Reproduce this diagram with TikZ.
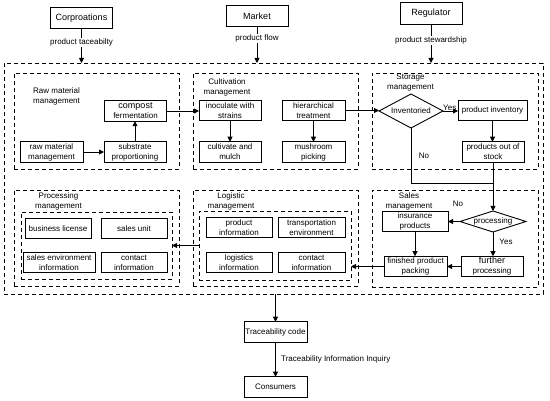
\documentclass[tikz,border=0pt]{standalone}
\usepackage{fontspec}
\setmainfont{Liberation Sans}
\usetikzlibrary{arrows.meta,shapes.geometric,calc}
\begin{document}
\begin{tikzpicture}[x=1pt,y=-1pt,
  box/.style={draw,line width=0.9pt,minimum width=#1,minimum height=20.5pt,inner sep=0.5pt,outer sep=0pt,align=center,font=\fontsize{8}{10}\selectfont},
  box/.default=63pt,
  topbox/.style={draw,line width=0.9pt,minimum width=62pt,minimum height=21.5pt,inner sep=0.5pt,outer sep=0pt,font=\fontsize{9}{10}\selectfont},
  dbox/.style={draw,line width=0.9pt,dash pattern=on 4pt off 3pt,inner sep=0pt,outer sep=0pt},
  dia/.style={draw,line width=0.9pt,diamond,inner sep=0pt,outer sep=0pt,font=\fontsize{8}{10}\selectfont},
  lbl/.style={inner sep=1pt,font=\fontsize{8}{10}\selectfont},
  ttl/.style={inner sep=0pt,align=center,font=\fontsize{8}{10}\selectfont},
  arr/.style={line width=0.9pt,-{Triangle[length=5pt,width=5pt]}},
  ln/.style={line width=0.9pt}]
\useasboundingbox (0,0) rectangle (550,401);

% top actors
\node[topbox] (corp) at (81.5,18) {Corproations};
\node[topbox] (market) at (257,16) {Market};
\node[topbox] (regul) at (431,13.5) {Regulator};

% outer dashed container
\node[dbox,minimum width=539pt,minimum height=231pt] (outer) at (273.5,178.5) {};

% section containers
\node[dbox,minimum width=165pt,minimum height=96pt] (raw) at (96.5,121) {};
\node[dbox,minimum width=165pt,minimum height=96pt] (cultiv) at (275.5,121) {};
\node[dbox,minimum width=166pt,minimum height=96pt] (storage) at (455,121) {};
\node[dbox,minimum width=165pt,minimum height=96pt] (procm) at (96.5,238) {};
\node[dbox,minimum width=165pt,minimum height=96pt] (logm) at (275.5,238) {};
\node[dbox,minimum width=166pt,minimum height=97pt] (sales) at (455,238.5) {};
\node[dbox,minimum width=151pt,minimum height=67pt] (procinner) at (96.5,245.5) {};
\node[dbox,minimum width=152pt,minimum height=69pt] (loginner) at (275,245.5) {};

% section titles
\node[ttl,align=left,anchor=west] (rawt) at (33,96) {Raw material\\management};
\node[ttl] (cultt) at (227,87) {Cultivation\\management};
\node[ttl] (stort) at (410.5,83) {Storage\\management};
\node[ttl] (proct) at (58.5,201) {Processing\\management};
\node[ttl] (logt) at (231,201) {Logistic\\management};
\node[ttl] (salest) at (409,201) {Sales\\management};

% raw material
\node[box=62pt] (compost) at (135.5,111) {\fontsize{9}{10.5}\selectfont compost\\fermentation};
\node[box] (rawmm) at (51.5,152) {raw material\\management};
\node[box=62pt] (substr) at (135,152) {substrate\\proportioning};

% cultivation
\node[box=62pt] (inoc) at (230,110.5) {inoculate with\\strains};
\node[box=62pt] (cult) at (230,152) {cultivate and\\mulch};
\node[box] (hier) at (313.5,110.5) {hierarchical\\treatment};
\node[box] (mush) at (313.5,152) {mushroom\\picking};

% storage
\node[dia,minimum width=64pt,minimum height=34pt,shape aspect=2] (inv) at (411,111) {Inventoried};
\node[box=69pt] (prodinv) at (492.5,110.5) {product inventory};
\node[box=62pt] (outstock) at (493,152) {products out of\\stock};
\coordinate (j) at (493,183);

% sales
\node[dia,minimum width=66pt,minimum height=21pt,shape aspect=3] (proc) at (493,221.5) {processing};
\node[box=66pt] (insur) at (415,221.5) {insurance\\products};
\node[box=62pt] (furth) at (492,266.5) {\fontsize{9}{10.5}\selectfont further\\processing};
\node[box] (finish) at (415.5,266.5) {finished product\\packing};

% processing
\node[box=66pt] (bl) at (58,228.5) {business license};
\node[box=66pt] (su) at (134,228.5) {sales unit};
\node[box=72pt] (se) at (59,262.5) {sales environment\\information};
\node[box=66pt] (ci1) at (134,262.5) {contact\\information};

% logistic
\node[box=66pt] (pi) at (239,227.5) {product\\information};
\node[box=67pt] (te) at (311.5,227.5) {transportation\\environment};
\node[box=66pt] (li) at (239,262.5) {logistics\\information};
\node[box=67pt] (ci2) at (311.5,262.5) {contact\\information};

% bottom
\node[box] (trace) at (275.5,332) {Traceability code};
\node[box] (cons) at (275.5,387) {Consumers};

% top connectors
\draw[arr] (corp.south) -- (corp.south |- outer.north) node[lbl,pos=0.4,fill=white] {product taceabilty};
\draw[arr] (market.south) -- (market.south |- outer.north) node[lbl,pos=0.33,fill=white] {product flow};
\draw[arr] (regul.south) -- (regul.south |- outer.north) node[lbl,pos=0.42,fill=white] {product stewardship};

% raw material arrows
\draw[arr] (rawmm.east) -- (substr.west);
\draw[arr] (substr.north) -- (substr.north |- compost.south);
\draw[arr] (compost.east) -- (compost.east -| inoc.west);

% cultivation arrows
\draw[arr] (inoc.south) -- (cult.north);
\draw[arr] (hier.south) -- (mush.north);
\draw[arr] (hier.east) -- (hier.east -| inv.west);

% storage arrows
\draw[arr] (inv.east) -- (inv.east -| prodinv.west) node[lbl,pos=0.45,above=-1pt] {Yes};
\draw[arr] (prodinv.south) -- (prodinv.south |- outstock.north);
\draw[ln] (inv.south) |- (j);
\node[lbl] (no1) at (424,156) {No};
\draw[arr] (outstock.south) -- (proc.north);

% sales arrows
\draw[arr] (proc.west) -- (insur.east);
\node[lbl] (no2) at (458,204) {No};
\draw[arr] (proc.south) -- (proc.south |- furth.north);
\node[lbl] (yes2) at (506,242) {Yes};
\draw[arr] (insur.south) -- (insur.south |- finish.north);
\draw[arr] (furth.west) -- (furth.west -| finish.east);
\draw[arr] (finish.west) -- (finish.west -| loginner.east);
\draw[arr] (loginner.west) -- (procinner.east);

% bottom arrows
\draw[arr] (trace.north |- outer.south) -- (trace.north);
\draw[arr] (trace.south) -- (cons.north);
\node[lbl,anchor=west] (tii) at (280,359) {Traceability Information Inquiry};
\end{tikzpicture}
\end{document}
